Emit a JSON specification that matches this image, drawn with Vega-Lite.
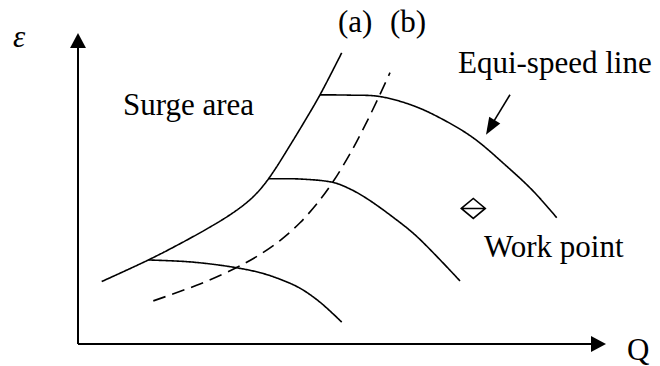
{
  "$schema": "https://vega.github.io/schema/vega-lite/v6.json",
  "width": 660,
  "height": 366,
  "padding": 0,
  "autosize": {"type": "fit", "contains": "padding"},
  "background": "white",
  "config": {"view": {"stroke": null}},
  "datasets": {
    "curves": [
      {"curve": "a", "style": "solid", "q": 101.7, "e": 83.7},
      {"curve": "a", "style": "solid", "q": 148.3, "e": 105.3},
      {"curve": "a", "style": "solid", "q": 180, "e": 121.6},
      {"curve": "a", "style": "solid", "q": 210, "e": 138.3},
      {"curve": "a", "style": "solid", "q": 230, "e": 150.6},
      {"curve": "a", "style": "solid", "q": 245, "e": 161.5},
      {"curve": "a", "style": "solid", "q": 255, "e": 170.5},
      {"curve": "a", "style": "solid", "q": 265, "e": 182},
      {"curve": "a", "style": "solid", "q": 275, "e": 196.2},
      {"curve": "a", "style": "solid", "q": 290, "e": 220.2},
      {"curve": "a", "style": "solid", "q": 305, "e": 245},
      {"curve": "a", "style": "solid", "q": 320, "e": 270.9},
      {"curve": "a", "style": "solid", "q": 341.7, "e": 313},
      {"curve": "b", "style": "dashed", "q": 153.3, "e": 64.3},
      {"curve": "b", "style": "dashed", "q": 200, "e": 81.3},
      {"curve": "b", "style": "dashed", "q": 236.7, "e": 97.8},
      {"curve": "b", "style": "dashed", "q": 260, "e": 110.8},
      {"curve": "b", "style": "dashed", "q": 280, "e": 124.8},
      {"curve": "b", "style": "dashed", "q": 300, "e": 142.6},
      {"curve": "b", "style": "dashed", "q": 320, "e": 165.6},
      {"curve": "b", "style": "dashed", "q": 333.3, "e": 184.2},
      {"curve": "b", "style": "dashed", "q": 350, "e": 211.7},
      {"curve": "b", "style": "dashed", "q": 365, "e": 240.2},
      {"curve": "b", "style": "dashed", "q": 379.3, "e": 269.9},
      {"curve": "b", "style": "dashed", "q": 390, "e": 293.2},
      {"curve": "n1", "style": "solid", "q": 320, "e": 270.9},
      {"curve": "n1", "style": "solid", "q": 350, "e": 270.6},
      {"curve": "n1", "style": "solid", "q": 379.3, "e": 269.3},
      {"curve": "n1", "style": "solid", "q": 413.3, "e": 260},
      {"curve": "n1", "style": "solid", "q": 443.3, "e": 246},
      {"curve": "n1", "style": "solid", "q": 473.3, "e": 227.7},
      {"curve": "n1", "style": "solid", "q": 506.7, "e": 199.3},
      {"curve": "n1", "style": "solid", "q": 533.3, "e": 174.3},
      {"curve": "n1", "style": "solid", "q": 556.7, "e": 147.7},
      {"curve": "n2", "style": "solid", "q": 268.5, "e": 186.7},
      {"curve": "n2", "style": "solid", "q": 300, "e": 186.5},
      {"curve": "n2", "style": "solid", "q": 333.3, "e": 183},
      {"curve": "n2", "style": "solid", "q": 350, "e": 176.5},
      {"curve": "n2", "style": "solid", "q": 366.7, "e": 167},
      {"curve": "n2", "style": "solid", "q": 393.3, "e": 148},
      {"curve": "n2", "style": "solid", "q": 416.7, "e": 129},
      {"curve": "n2", "style": "solid", "q": 460, "e": 84.3},
      {"curve": "n3", "style": "solid", "q": 148.3, "e": 105.3},
      {"curve": "n3", "style": "solid", "q": 190, "e": 103.4},
      {"curve": "n3", "style": "solid", "q": 230, "e": 98.6},
      {"curve": "n3", "style": "solid", "q": 260, "e": 92.6},
      {"curve": "n3", "style": "solid", "q": 280, "e": 86},
      {"curve": "n3", "style": "solid", "q": 300, "e": 77},
      {"curve": "n3", "style": "solid", "q": 320, "e": 63},
      {"curve": "n3", "style": "solid", "q": 341.7, "e": 43}
    ],
    "segments": [
      {"name": "axis", "q": 78, "e": 21, "q2": 78, "e2": 326},
      {"name": "axis", "q": 78, "e": 21, "q2": 598, "e2": 21},
      {"name": "note", "q": 510, "e": 271, "q2": 493, "e2": 243}
    ],
    "heads": [
      {"name": "yaxis", "q": 78, "e": 333},
      {"name": "xaxis", "q": 606, "e": 21},
      {"name": "note", "q": 486, "e": 231}
    ],
    "labels": [
      {"label": "ε", "kind": "symbol", "q": 13, "e": 319},
      {"label": "(a)", "kind": "plain", "q": 338, "e": 334},
      {"label": "(b)", "kind": "plain", "q": 390, "e": 334},
      {"label": "Surge area", "kind": "plain", "q": 123, "e": 251},
      {"label": "Equi-speed line", "kind": "plain", "q": 458, "e": 293},
      {"label": "Work point", "kind": "plain", "q": 484, "e": 108},
      {"label": "Q", "kind": "plain", "q": 627, "e": 5}
    ],
    "points": [{"name": "Work point", "q": 473.3, "e": 157}]
  },
  "layer": [
    {
      "data": {"name": "curves"},
      "mark": {"type": "line", "interpolate": "catmull-rom", "color": "black", "strokeWidth": 1.6},
      "encoding": {
        "x": {"field": "q", "type": "quantitative", "scale": {"domain": [0, 660], "nice": false, "zero": false}, "axis": null},
        "y": {"field": "e", "type": "quantitative", "scale": {"domain": [0, 366], "nice": false, "zero": false}, "axis": null},
        "detail": {"field": "curve", "type": "nominal"},
        "strokeDash": {"field": "style", "type": "nominal", "scale": {"domain": ["solid", "dashed"], "range": [[1, 0], [13, 7]]}, "legend": null}
      }
    },
    {
      "data": {"name": "segments"},
      "transform": [{"filter": "datum.name === 'axis'"}],
      "mark": {"type": "rule", "color": "black", "strokeWidth": 2},
      "encoding": {
        "x": {"field": "q", "type": "quantitative", "scale": {"domain": [0, 660], "nice": false, "zero": false}, "axis": null},
        "y": {"field": "e", "type": "quantitative", "scale": {"domain": [0, 366], "nice": false, "zero": false}, "axis": null},
        "x2": {"field": "q2"},
        "y2": {"field": "e2"}
      }
    },
    {
      "data": {"name": "segments"},
      "transform": [{"filter": "datum.name === 'note'"}],
      "mark": {"type": "rule", "color": "black", "strokeWidth": 1.6},
      "encoding": {
        "x": {"field": "q", "type": "quantitative", "axis": null},
        "y": {"field": "e", "type": "quantitative", "axis": null},
        "x2": {"field": "q2"},
        "y2": {"field": "e2"}
      }
    },
    {
      "data": {"name": "heads"},
      "transform": [{"filter": "datum.name === 'yaxis'"}],
      "mark": {"type": "point", "shape": "M0,0L0.53,1L-0.53,1Z", "size": 900, "filled": true, "color": "black", "opacity": 1, "angle": 0},
      "encoding": {
        "x": {"field": "q", "type": "quantitative", "axis": null},
        "y": {"field": "e", "type": "quantitative", "axis": null}
      }
    },
    {
      "data": {"name": "heads"},
      "transform": [{"filter": "datum.name === 'xaxis'"}],
      "mark": {"type": "point", "shape": "M0,0L0.53,1L-0.53,1Z", "size": 900, "filled": true, "color": "black", "opacity": 1, "angle": 90},
      "encoding": {
        "x": {"field": "q", "type": "quantitative", "axis": null},
        "y": {"field": "e", "type": "quantitative", "axis": null}
      }
    },
    {
      "data": {"name": "heads"},
      "transform": [{"filter": "datum.name === 'note'"}],
      "mark": {"type": "point", "shape": "M0,0L0.38,1L-0.38,1Z", "size": 1156, "filled": true, "color": "black", "opacity": 1, "angle": 211},
      "encoding": {
        "x": {"field": "q", "type": "quantitative", "axis": null},
        "y": {"field": "e", "type": "quantitative", "axis": null}
      }
    },
    {
      "data": {"name": "points"},
      "mark": {"type": "point", "shape": "M-1,0L0,-0.83L1,0L0,0.83ZM-1,0L1,0", "size": 576, "filled": false, "color": "black", "strokeWidth": 1.6, "opacity": 1},
      "encoding": {
        "x": {"field": "q", "type": "quantitative", "axis": null},
        "y": {"field": "e", "type": "quantitative", "axis": null}
      }
    },
    {
      "data": {"name": "labels"},
      "transform": [{"filter": "datum.kind === 'plain'"}],
      "mark": {"type": "text", "font": "Liberation Serif", "fontSize": 31, "align": "left", "baseline": "alphabetic", "color": "black"},
      "encoding": {
        "x": {"field": "q", "type": "quantitative", "axis": null},
        "y": {"field": "e", "type": "quantitative", "axis": null},
        "text": {"field": "label"}
      }
    },
    {
      "data": {"name": "labels"},
      "transform": [{"filter": "datum.kind === 'symbol'"}],
      "mark": {"type": "text", "font": "Liberation Serif", "fontSize": 31, "fontStyle": "italic", "align": "left", "baseline": "alphabetic", "color": "black"},
      "encoding": {
        "x": {"field": "q", "type": "quantitative", "axis": null},
        "y": {"field": "e", "type": "quantitative", "axis": null},
        "text": {"field": "label"}
      }
    }
  ]
}
